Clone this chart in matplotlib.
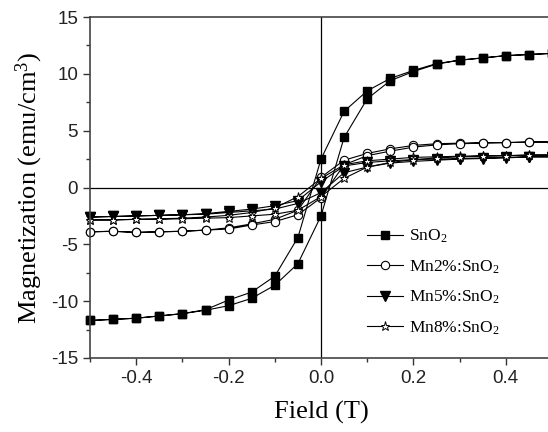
import matplotlib
matplotlib.use("Agg")
import matplotlib.pyplot as plt
from matplotlib.ticker import MultipleLocator

# field values of each branch (T), sweep from +0.5 down to -0.5
field_down = [0.5, 0.45, 0.4, 0.35, 0.3, 0.25, 0.2, 0.15, 0.1, 0.05, 0.0,
              -0.05, -0.1, -0.15, -0.2, -0.25, -0.3, -0.35, -0.4, -0.45, -0.5]
field_up = field_down[::-1]

# magnetization (emu/cm3), down branch then up branch
sno2_down = [11.8, 11.7, 11.6, 11.4, 11.2, 10.9, 10.3, 9.6, 8.5, 6.7, 2.5,
             -4.4, -7.8, -9.2, -9.9, -10.75, -11.1, -11.3, -11.5, -11.6, -11.7]
sno2_up = [-11.7, -11.6, -11.5, -11.3, -11.1, -10.8, -10.4, -9.75, -8.6, -6.7, -2.5,
           4.4, 7.8, 9.4, 10.2, 10.85, 11.2, 11.4, 11.6, 11.7, 11.8]

mn2_down = [4.0, 4.0, 3.95, 3.95, 3.9, 3.85, 3.7, 3.4, 3.0, 2.4, 0.9,
            -2.0, -2.8, -3.2, -3.55, -3.75, -3.85, -3.9, -3.95, -3.85, -3.9]
mn2_up = [-3.9, -3.85, -3.95, -3.9, -3.85, -3.75, -3.65, -3.3, -3.0, -2.4, -0.9,
          2.0, 2.8, 3.2, 3.55, 3.75, 3.85, 3.9, 3.95, 4.0, 4.0]

mn5_down = [2.7, 2.7, 2.65, 2.6, 2.55, 2.5, 2.45, 2.35, 2.2, 1.9, 0.5,
            -1.15, -1.6, -1.9, -2.1, -2.3, -2.4, -2.45, -2.5, -2.55, -2.6]
mn5_up = [-2.6, -2.55, -2.5, -2.45, -2.4, -2.35, -2.2, -2.05, -1.9, -1.4, -0.45,
          1.3, 1.8, 2.15, 2.3, 2.4, 2.5, 2.55, 2.6, 2.7, 2.7]

mn8_down = [2.85, 2.85, 2.8, 2.8, 2.75, 2.7, 2.65, 2.5, 2.35, 2.0, 0.8,
            -0.8, -1.8, -2.2, -2.45, -2.6, -2.7, -2.75, -2.8, -2.85, -2.85]
mn8_up = [-2.85, -2.85, -2.8, -2.8, -2.75, -2.7, -2.65, -2.5, -2.35, -2.0, -0.8,
          0.8, 1.8, 2.2, 2.45, 2.6, 2.7, 2.75, 2.8, 2.85, 2.85]

labels = ["SnO$_2$", "Mn2%:SnO$_2$", "Mn5%:SnO$_2$", "Mn8%:SnO$_2$"]

plt.rcParams['mathtext.default'] = 'regular'

fig = plt.figure(figsize=(5.48, 4.32), dpi=100)
ax = fig.add_axes([90 / 548, 1 - 358 / 432, 462 / 548, 341 / 432])

ax.axhline(0, color='black', lw=0.9, zorder=1)
ax.axvline(0, color='black', lw=0.9, zorder=1)

loop_x = field_down + field_up
ax.plot(loop_x, sno2_down + sno2_up, color='black', lw=0.8, marker='s', ms=5.5,
        mfc='black', mec='black', label=labels[0], clip_on=False)
ax.plot(loop_x, mn2_down + mn2_up, color='black', lw=0.8, marker='o', ms=6,
        mfc='white', mec='black', mew=0.8, label=labels[1], clip_on=False)
ax.plot(loop_x, mn5_down + mn5_up, color='black', lw=0.8, marker='v', ms=6.5,
        mfc='black', mec='black', label=labels[2], clip_on=False)
ax.plot(loop_x, mn8_down + mn8_up, color='black', lw=0.8, marker='*', ms=6.5,
        mfc='white', mec='black', mew=0.7, label=labels[3], clip_on=False)

ax.set_xlim(-0.5, 0.5)
ax.set_ylim(-15, 15)
ax.xaxis.set_major_locator(MultipleLocator(0.2))
ax.xaxis.set_minor_locator(MultipleLocator(0.1))
ax.yaxis.set_major_locator(MultipleLocator(5))
ax.yaxis.set_minor_locator(MultipleLocator(2.5))
ax.set_xticks([-0.4, -0.2, 0.0, 0.2, 0.4])
ax.set_xticklabels(["-0.4", "-0.2", "0.0", "0.2", "0.4"])
ax.set_yticklabels([str(int(v)) for v in ax.get_yticks()])

ax.tick_params(which='major', direction='out', length=5, width=1, labelsize=13.5,
               colors='#333333', labelcolor='#222222')
ax.tick_params(which='minor', direction='out', length=3, width=1, colors='#333333')
for lab in ax.get_xticklabels() + ax.get_yticklabels():
    lab.set_fontfamily('Liberation Sans')
for s in ax.spines.values():
    s.set_linewidth(1.2)
    s.set_color('#444444')

ax.set_xlabel("Field (T)", fontsize=19, family='Liberation Serif', labelpad=10)
ax.set_ylabel("Magnetization (emu/cm$^3$)", fontsize=19, family='Liberation Serif',
              labelpad=4)

ax.legend(loc='upper left', bbox_to_anchor=(367 / 548, 1 - 228 / 432),
          bbox_transform=fig.transFigure, frameon=False, borderpad=0,
          borderaxespad=0, handlelength=2.1, handletextpad=0.3, labelspacing=0.75,
          prop={'family': 'Liberation Serif', 'size': 12.5})

fig.savefig("out.png", dpi=100)
